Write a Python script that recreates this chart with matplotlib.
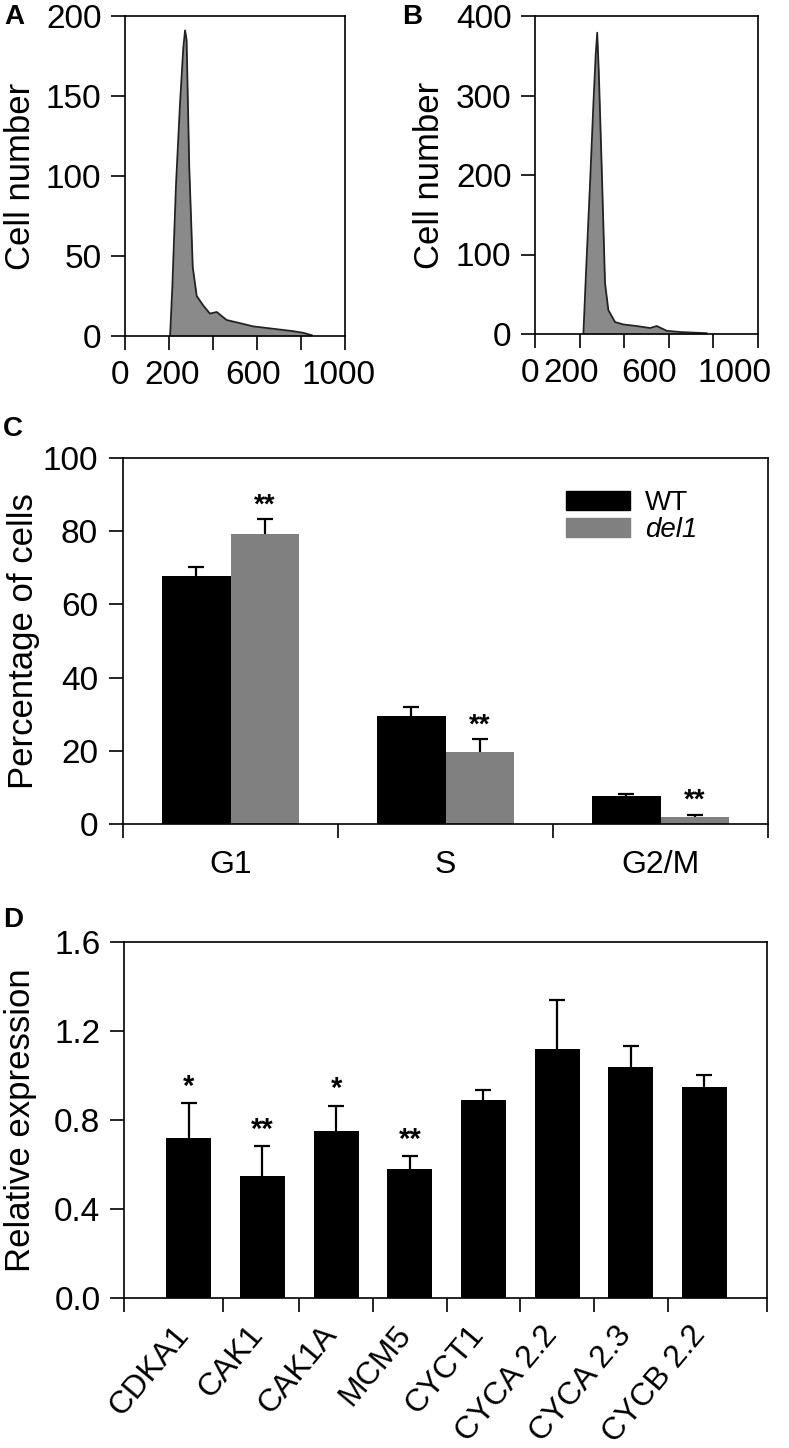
import matplotlib
matplotlib.use("Agg")
import matplotlib.pyplot as plt
from matplotlib.patches import Patch
from matplotlib.transforms import ScaledTranslation
import numpy as np

plt.rcParams['font.family'] = ['Liberation Sans', 'DejaVu Sans']

# ---- data ----
# A: DNA content histogram, wild type
a_x = [205, 215, 232, 250, 265, 273, 280, 292, 308, 326, 356, 386, 417, 462, 523, 583, 644, 705, 765, 810, 849]
a_y = [0, 30, 95, 145, 180, 191, 185, 106, 43, 25, 19, 14, 15, 10, 8, 6, 5, 4, 3, 2, 0.5]
# B: DNA content histogram, del1
b_x = [217, 230, 247, 262, 272, 279, 286, 299, 314, 329, 359, 396, 456, 516, 546, 591, 650, 770]
b_y = [0, 85, 190, 290, 350, 379, 330, 211, 64, 30, 15, 12, 10, 7.5, 10, 4, 2.5, 1]
hist_ticks = [0, 200, 400, 600, 800, 1000]
hist_labels = ['0', '200', '', '600', '', '1000']

# C: cell cycle phases
phases = ['G1', 'S', 'G2/M']
wt_pct = [67.8, 29.6, 7.6]
wt_err = [2.5, 2.3, 0.6]
del1_pct = [79.3, 19.6, 2.0]
del1_err = [3.9, 3.5, 0.5]
del1_stars = ['**', '**', '**']

# D: relative expression
genes = ['CDKA1', 'CAK1', 'CAK1A', 'MCM5', 'CYCT1', 'CYCA 2.2', 'CYCA 2.3', 'CYCB 2.2']
expr = [0.717, 0.548, 0.751, 0.581, 0.888, 1.121, 1.037, 0.947]
expr_err = [0.158, 0.134, 0.114, 0.057, 0.048, 0.220, 0.097, 0.054]
expr_stars = ['*', '**', '*', '**', '', '', '', '']

W, H = 789, 1448
fig = plt.figure(figsize=(W / 100, H / 100), dpi=100)


def axes_px(l, t, r, b):
    return fig.add_axes([l / W, 1 - b / H, (r - l) / W, (b - t) / H])


def style(ax, size=24, pad=7):
    for s in ax.spines.values():
        s.set_linewidth(1.2)
    ax.tick_params(which='major', direction='out', length=10, width=1.2,
                   labelsize=size, pad=pad)


def upper_err(ax, x, y, e, capsize=6):
    lo = np.zeros(len(e))
    line, caps, bars = ax.errorbar(x, y, yerr=[lo, e], fmt='none', ecolor='black',
                                   elinewidth=1.6, capsize=capsize, capthick=1.6)
    caps[0].set_visible(False)


def shift_labels(labels, shifts_px):
    for lab, dx in zip(labels, shifts_px):
        lab.set_transform(lab.get_transform() +
                          ScaledTranslation(dx / 100, 0, fig.dpi_scale_trans))


# ---- A ----
ax = axes_px(125, 16, 345, 336)
ax.fill_between(a_x, a_y, color='#8a8a8a', lw=0)
ax.plot(a_x, a_y, color='#222222', lw=1.3)
ax.set_xlim(0, 1000)
ax.set_ylim(0, 200)
ax.set_yticks([0, 50, 100, 150, 200])
ax.set_xticks(hist_ticks, hist_labels)
style(ax)
shift_labels(ax.get_xticklabels(), [-5, 3, 0, -4, 0, -6])
ax.set_ylabel('Cell number', fontsize=25, va='center')
ax.yaxis.set_label_coords(-0.477, 0.5)

# ---- B ----
ax = axes_px(535, 16, 758, 334)
ax.fill_between(b_x, b_y, color='#8a8a8a', lw=0)
ax.plot(b_x, b_y, color='#222222', lw=1.3)
ax.set_xlim(0, 1000)
ax.set_ylim(0, 400)
ax.set_yticks([0, 100, 200, 300, 400])
ax.set_xticks(hist_ticks, hist_labels)
style(ax)
shift_labels(ax.get_xticklabels(), [-5, -8, 0, -20, 0, -24])
ax.set_ylabel('Cell number', fontsize=25, va='center')
ax.yaxis.set_label_coords(-0.471, 0.5)

# ---- C ----
ax = axes_px(123, 458, 768, 824)
xc = np.arange(len(phases))
bw = 0.32
ax.bar(xc - bw / 2, wt_pct, bw, color='black', label='WT')
ax.bar(xc + bw / 2, del1_pct, bw, color='#808080', label='del1')
upper_err(ax, xc - bw / 2, wt_pct, wt_err)
upper_err(ax, xc + bw / 2, del1_pct, del1_err)
for i, s in enumerate(del1_stars):
    ax.annotate(s, (xc[i] + bw / 2, del1_pct[i] + del1_err[i]), xytext=(0, 5),
                textcoords='offset points', ha='center', va='baseline',
                fontsize=20, fontweight='bold')
ax.set_xlim(-0.5, 2.5)
ax.set_ylim(0, 100)
ax.set_yticks([0, 20, 40, 60, 80, 100])
ax.set_xticks([-0.5, 0.5, 1.5, 2.5], ['', '', '', ''])
ax.set_xticks(xc, phases, minor=True)
style(ax, size=24, pad=8)
ax.tick_params(axis='x', which='minor', length=0, labelsize=23, pad=19)
ax.set_ylabel('Percentage of cells', fontsize=25, va='center')
ax.yaxis.set_label_coords(-0.155, 0.5)
leg = ax.legend(handles=[Patch(color='black'), Patch(color='#808080')],
                labels=['WT', 'del1'], fontsize=20, frameon=False,
                handlelength=2.3, handleheight=0.68, labelspacing=0.05,
                handletextpad=0.55, borderpad=0, borderaxespad=0,
                loc='upper left', bbox_to_anchor=(566 / W, 1 - 490 / H),
                bbox_transform=fig.transFigure)
leg.get_texts()[1].set_style('italic')

# ---- D ----
ax = axes_px(124, 942, 767, 1298)
xd = np.arange(len(genes))
ax.bar(xd, expr, 0.61, color='black')
upper_err(ax, xd, expr, expr_err)
for i, s in enumerate(expr_stars):
    if s:
        ax.annotate(s, (xd[i], expr[i] + expr_err[i]), xytext=(0, 6),
                    textcoords='offset points', ha='center', va='baseline',
                    fontsize=21, fontweight='bold')
ax.set_xlim(-0.88, 7.85)
ax.set_ylim(0, 1.6)
ax.set_yticks([0, 0.4, 0.8, 1.2, 1.6], ['0.0', '0.4', '0.8', '1.2', '1.6'])
ax.set_xticks([-0.88, 0.47, 1.5, 2.5, 3.5, 4.5, 5.5, 6.5, 7.85], [''] * 9)
ax.set_xticks(xd, genes, minor=True)
style(ax)
ax.tick_params(axis='x', which='minor', length=0, labelsize=23, pad=16)
for lab in ax.get_xticklabels(minor=True):
    lab.set_rotation(50)
    lab.set_ha('right')
    lab.set_va('top')
shift_labels(ax.get_xticklabels(minor=True), [7] * len(genes))
ax.set_ylabel('Relative expression', fontsize=25, va='center')
ax.yaxis.set_label_coords(-0.161, 0.5)

# panel letters
for letter, x, y in [('A', 14, 17), ('B', 412, 17), ('C', 13, 429), ('D', 13, 920)]:
    fig.text(x / W, 1 - y / H, letter, fontsize=20, fontweight='bold',
             ha='center', va='center')

fig.savefig('out.png', dpi=100)
